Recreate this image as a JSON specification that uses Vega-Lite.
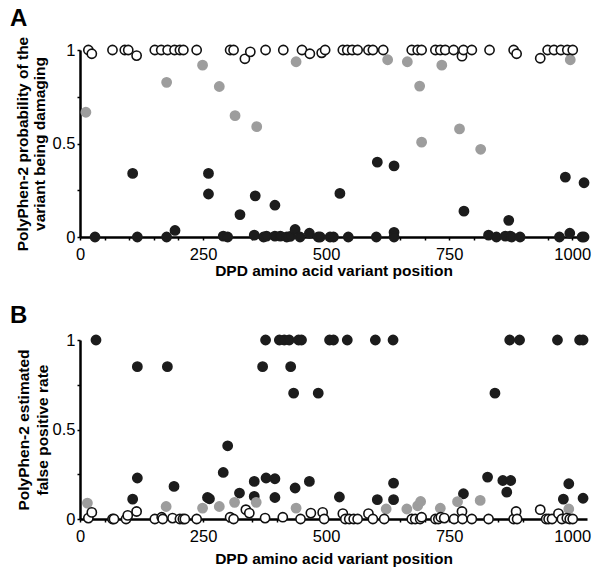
{
  "$schema": "https://vega.github.io/schema/vega-lite/v6.json",
  "autosize": "none",
  "padding": {"left": 80, "top": 50, "right": 521, "bottom": 524},
  "bounds": "flush",
  "spacing": 103,
  "config": {
    "font": "Liberation Sans",
    "view": {"stroke": null},
    "axis": {
      "grid": false,
      "domainColor": "#000",
      "domainWidth": 2.5,
      "tickColor": "#000",
      "tickWidth": 1.5,
      "tickSize": 3,
      "labelFont": "Liberation Sans",
      "labelFontSize": 16.5,
      "labelColor": "#000",
      "labelFlush": false,
      "labelOverlap": false,
      "titleFont": "Liberation Sans",
      "titleFontSize": 15.5,
      "titleLineHeight": 18,
      "titleFontWeight": "bold",
      "titleColor": "#000"
    }
  },
  "datasets": {
    "a": [
      {"pos": 30.5, "val": 0, "cls": "benign"}, {"pos": 107, "val": 0.34, "cls": "benign"}, {"pos": 116.5, "val": 0, "cls": "benign"},
      {"pos": 176, "val": 0, "cls": "benign"}, {"pos": 193, "val": 0.035, "cls": "benign"}, {"pos": 261, "val": 0.34, "cls": "benign"},
      {"pos": 261, "val": 0.23, "cls": "benign"}, {"pos": 291, "val": 0.005, "cls": "benign"}, {"pos": 300, "val": 0, "cls": "benign"},
      {"pos": 325, "val": 0.12, "cls": "benign"}, {"pos": 354, "val": 0.01, "cls": "benign"}, {"pos": 356, "val": 0.22, "cls": "benign"},
      {"pos": 373, "val": 0, "cls": "benign"}, {"pos": 379, "val": 0.005, "cls": "benign"}, {"pos": 396, "val": 0.005, "cls": "benign"},
      {"pos": 396, "val": 0.17, "cls": "benign"}, {"pos": 407, "val": 0.005, "cls": "benign"}, {"pos": 420, "val": 0, "cls": "benign"},
      {"pos": 427, "val": 0.003, "cls": "benign"}, {"pos": 437, "val": 0.04, "cls": "benign"}, {"pos": 447, "val": 0, "cls": "benign"},
      {"pos": 466, "val": 0.02, "cls": "benign"}, {"pos": 484, "val": 0, "cls": "benign"}, {"pos": 488, "val": 0, "cls": "benign"},
      {"pos": 508, "val": 0, "cls": "benign"}, {"pos": 515, "val": 0, "cls": "benign"}, {"pos": 528, "val": 0.233, "cls": "benign"},
      {"pos": 545, "val": 0, "cls": "benign"}, {"pos": 602, "val": 0, "cls": "benign"}, {"pos": 604, "val": 0.4, "cls": "benign"},
      {"pos": 638, "val": 0.38, "cls": "benign"}, {"pos": 638, "val": 0.025, "cls": "benign"}, {"pos": 638, "val": 0, "cls": "benign"},
      {"pos": 780, "val": 0.138, "cls": "benign"}, {"pos": 830, "val": 0.01, "cls": "benign"}, {"pos": 846, "val": 0, "cls": "benign"},
      {"pos": 864, "val": 0.005, "cls": "benign"}, {"pos": 871, "val": 0.089, "cls": "benign"}, {"pos": 874, "val": 0.005, "cls": "benign"},
      {"pos": 877, "val": 0, "cls": "benign"}, {"pos": 894, "val": 0, "cls": "benign"}, {"pos": 974, "val": 0, "cls": "benign"},
      {"pos": 986, "val": 0.32, "cls": "benign"}, {"pos": 995, "val": 0.02, "cls": "benign"}, {"pos": 1020, "val": 0, "cls": "benign"},
      {"pos": 1024, "val": 0.29, "cls": "benign"}, {"pos": 1024, "val": 0, "cls": "benign"},
      {"pos": 12, "val": 0.667, "cls": "possibly"}, {"pos": 176, "val": 0.827, "cls": "possibly"}, {"pos": 249, "val": 0.919, "cls": "possibly"},
      {"pos": 283, "val": 0.805, "cls": "possibly"}, {"pos": 315, "val": 0.649, "cls": "possibly"}, {"pos": 359, "val": 0.59, "cls": "possibly"},
      {"pos": 439, "val": 0.937, "cls": "possibly"}, {"pos": 625, "val": 0.948, "cls": "possibly"}, {"pos": 665, "val": 0.937, "cls": "possibly"},
      {"pos": 690, "val": 0.807, "cls": "possibly"}, {"pos": 694, "val": 0.507, "cls": "possibly"}, {"pos": 735, "val": 0.919, "cls": "possibly"},
      {"pos": 771, "val": 0.578, "cls": "possibly"}, {"pos": 814, "val": 0.469, "cls": "possibly"}, {"pos": 996, "val": 0.948, "cls": "possibly"},
      {"pos": 17, "val": 1, "cls": "probably"}, {"pos": 24, "val": 0.98, "cls": "probably"}, {"pos": 66, "val": 1, "cls": "probably"},
      {"pos": 91, "val": 1, "cls": "probably"}, {"pos": 98, "val": 1, "cls": "probably"}, {"pos": 115, "val": 0.97, "cls": "probably"},
      {"pos": 152, "val": 1, "cls": "probably"}, {"pos": 165, "val": 1, "cls": "probably"}, {"pos": 178, "val": 1, "cls": "probably"},
      {"pos": 192, "val": 1, "cls": "probably"}, {"pos": 203, "val": 1, "cls": "probably"}, {"pos": 210, "val": 1, "cls": "probably"},
      {"pos": 237, "val": 1, "cls": "probably"}, {"pos": 305, "val": 1, "cls": "probably"}, {"pos": 312, "val": 1, "cls": "probably"},
      {"pos": 335, "val": 0.953, "cls": "probably"}, {"pos": 346, "val": 0.99, "cls": "probably"}, {"pos": 377, "val": 1, "cls": "probably"},
      {"pos": 413, "val": 1, "cls": "probably"}, {"pos": 451, "val": 1, "cls": "probably"}, {"pos": 467, "val": 0.98, "cls": "probably"},
      {"pos": 491, "val": 0.985, "cls": "probably"}, {"pos": 498, "val": 1, "cls": "probably"}, {"pos": 534, "val": 1, "cls": "probably"},
      {"pos": 543, "val": 1, "cls": "probably"}, {"pos": 553, "val": 1, "cls": "probably"}, {"pos": 564, "val": 1, "cls": "probably"},
      {"pos": 586, "val": 1, "cls": "probably"}, {"pos": 595, "val": 1, "cls": "probably"}, {"pos": 616, "val": 1, "cls": "probably"},
      {"pos": 674, "val": 1, "cls": "probably"}, {"pos": 686, "val": 1, "cls": "probably"}, {"pos": 694, "val": 1, "cls": "probably"},
      {"pos": 722, "val": 1, "cls": "probably"}, {"pos": 732, "val": 1, "cls": "probably"}, {"pos": 742, "val": 1, "cls": "probably"},
      {"pos": 759, "val": 1, "cls": "probably"}, {"pos": 776, "val": 0.967, "cls": "probably"}, {"pos": 779, "val": 1, "cls": "probably"},
      {"pos": 796, "val": 1, "cls": "probably"}, {"pos": 832, "val": 1, "cls": "probably"}, {"pos": 881, "val": 1, "cls": "probably"},
      {"pos": 887, "val": 0.98, "cls": "probably"}, {"pos": 935, "val": 0.956, "cls": "probably"}, {"pos": 950, "val": 1, "cls": "probably"},
      {"pos": 963, "val": 1, "cls": "probably"}, {"pos": 977, "val": 1, "cls": "probably"}, {"pos": 990, "val": 1, "cls": "probably"},
      {"pos": 1001, "val": 1, "cls": "probably"}
    ],
    "b": [
      {"pos": 32.5, "val": 1, "cls": "benign"}, {"pos": 107, "val": 0.111, "cls": "benign"}, {"pos": 116.5, "val": 0.851, "cls": "benign"},
      {"pos": 116.5, "val": 0.229, "cls": "benign"}, {"pos": 177.5, "val": 0.851, "cls": "benign"}, {"pos": 191, "val": 0.182, "cls": "benign"},
      {"pos": 259, "val": 0.12, "cls": "benign"}, {"pos": 263, "val": 0.113, "cls": "benign"}, {"pos": 291, "val": 0.26, "cls": "benign"},
      {"pos": 300, "val": 0.409, "cls": "benign"}, {"pos": 324, "val": 0.145, "cls": "benign"}, {"pos": 354, "val": 0.21, "cls": "benign"},
      {"pos": 354, "val": 0.126, "cls": "benign"}, {"pos": 371, "val": 0.851, "cls": "benign"}, {"pos": 377, "val": 1, "cls": "benign"},
      {"pos": 378, "val": 0.229, "cls": "benign"}, {"pos": 396, "val": 0.225, "cls": "benign"}, {"pos": 396, "val": 0.12, "cls": "benign"},
      {"pos": 405, "val": 1, "cls": "benign"}, {"pos": 415, "val": 1, "cls": "benign"}, {"pos": 425, "val": 1, "cls": "benign"},
      {"pos": 428, "val": 0.851, "cls": "benign"}, {"pos": 434, "val": 0.703, "cls": "benign"}, {"pos": 437, "val": 0.173, "cls": "benign"},
      {"pos": 444, "val": 1, "cls": "benign"}, {"pos": 450, "val": 1, "cls": "benign"}, {"pos": 466, "val": 0.21, "cls": "benign"},
      {"pos": 484, "val": 0.703, "cls": "benign"}, {"pos": 507, "val": 1, "cls": "benign"}, {"pos": 515, "val": 1, "cls": "benign"},
      {"pos": 527, "val": 0.123, "cls": "benign"}, {"pos": 543, "val": 1, "cls": "benign"}, {"pos": 600, "val": 1, "cls": "benign"},
      {"pos": 604, "val": 0.108, "cls": "benign"}, {"pos": 636, "val": 1, "cls": "benign"}, {"pos": 637, "val": 0.2, "cls": "benign"},
      {"pos": 637, "val": 0.108, "cls": "benign"}, {"pos": 779, "val": 0.141, "cls": "benign"}, {"pos": 828, "val": 0.234, "cls": "benign"},
      {"pos": 843, "val": 0.703, "cls": "benign"}, {"pos": 859, "val": 0.215, "cls": "benign"}, {"pos": 867, "val": 0.15, "cls": "benign"},
      {"pos": 873, "val": 1, "cls": "benign"}, {"pos": 875, "val": 0.215, "cls": "benign"}, {"pos": 893, "val": 1, "cls": "benign"},
      {"pos": 970, "val": 1, "cls": "benign"}, {"pos": 982, "val": 0.111, "cls": "benign"}, {"pos": 993, "val": 0.197, "cls": "benign"},
      {"pos": 1015, "val": 1, "cls": "benign"}, {"pos": 1022, "val": 1, "cls": "benign"}, {"pos": 1022, "val": 0.116, "cls": "benign"},
      {"pos": 15, "val": 0.089, "cls": "possibly"}, {"pos": 175, "val": 0.07, "cls": "possibly"}, {"pos": 249, "val": 0.061, "cls": "possibly"},
      {"pos": 283, "val": 0.07, "cls": "possibly"}, {"pos": 314, "val": 0.093, "cls": "possibly"}, {"pos": 358, "val": 0.093, "cls": "possibly"},
      {"pos": 439, "val": 0.061, "cls": "possibly"}, {"pos": 622, "val": 0.056, "cls": "possibly"}, {"pos": 664, "val": 0.056, "cls": "possibly"},
      {"pos": 686, "val": 0.074, "cls": "possibly"}, {"pos": 692, "val": 0.098, "cls": "possibly"}, {"pos": 732, "val": 0.06, "cls": "possibly"},
      {"pos": 767, "val": 0.097, "cls": "possibly"}, {"pos": 813, "val": 0.104, "cls": "possibly"}, {"pos": 993, "val": 0.056, "cls": "possibly"},
      {"pos": 17, "val": 0.005, "cls": "probably"}, {"pos": 24, "val": 0.037, "cls": "probably"}, {"pos": 66, "val": 0, "cls": "probably"},
      {"pos": 69, "val": 0, "cls": "probably"}, {"pos": 93.5, "val": 0, "cls": "probably"}, {"pos": 97, "val": 0.02, "cls": "probably"},
      {"pos": 115, "val": 0.042, "cls": "probably"}, {"pos": 152, "val": 0, "cls": "probably"}, {"pos": 166, "val": 0.01, "cls": "probably"},
      {"pos": 168, "val": 0, "cls": "probably"}, {"pos": 188, "val": 0.005, "cls": "probably"}, {"pos": 203, "val": 0, "cls": "probably"},
      {"pos": 209, "val": 0, "cls": "probably"}, {"pos": 213, "val": 0, "cls": "probably"}, {"pos": 237, "val": 0, "cls": "probably"},
      {"pos": 305, "val": 0.01, "cls": "probably"}, {"pos": 312, "val": 0, "cls": "probably"}, {"pos": 337, "val": 0.052, "cls": "probably"},
      {"pos": 344, "val": 0.033, "cls": "probably"}, {"pos": 376, "val": 0.005, "cls": "probably"}, {"pos": 412, "val": 0.01, "cls": "probably"},
      {"pos": 448, "val": 0, "cls": "probably"}, {"pos": 469, "val": 0.033, "cls": "probably"}, {"pos": 493, "val": 0.037, "cls": "probably"},
      {"pos": 496, "val": 0, "cls": "probably"}, {"pos": 534, "val": 0.03, "cls": "probably"}, {"pos": 539, "val": 0, "cls": "probably"},
      {"pos": 547, "val": 0, "cls": "probably"}, {"pos": 556, "val": 0, "cls": "probably"}, {"pos": 564, "val": 0, "cls": "probably"},
      {"pos": 586, "val": 0.03, "cls": "probably"}, {"pos": 595, "val": 0, "cls": "probably"}, {"pos": 618, "val": 0, "cls": "probably"},
      {"pos": 674, "val": 0, "cls": "probably"}, {"pos": 681, "val": 0, "cls": "probably"}, {"pos": 691, "val": 0, "cls": "probably"},
      {"pos": 694, "val": 0.01, "cls": "probably"}, {"pos": 722, "val": 0, "cls": "probably"}, {"pos": 728, "val": 0, "cls": "probably"},
      {"pos": 733, "val": 0.01, "cls": "probably"}, {"pos": 740, "val": 0.005, "cls": "probably"}, {"pos": 760, "val": 0, "cls": "probably"},
      {"pos": 776, "val": 0.042, "cls": "probably"}, {"pos": 777, "val": 0, "cls": "probably"}, {"pos": 796, "val": 0, "cls": "probably"},
      {"pos": 830, "val": 0, "cls": "probably"}, {"pos": 881, "val": 0, "cls": "probably"}, {"pos": 886, "val": 0.042, "cls": "probably"},
      {"pos": 888, "val": 0, "cls": "probably"}, {"pos": 935, "val": 0.052, "cls": "probably"}, {"pos": 947, "val": 0, "cls": "probably"},
      {"pos": 952, "val": 0, "cls": "probably"}, {"pos": 959, "val": 0, "cls": "probably"}, {"pos": 972, "val": 0.03, "cls": "probably"},
      {"pos": 979, "val": 0, "cls": "probably"}, {"pos": 989, "val": 0.005, "cls": "probably"}, {"pos": 995, "val": 0, "cls": "probably"},
      {"pos": 1001, "val": 0, "cls": "probably"}
    ]
  },
  "vconcat": [
    {
      "width": 507,
      "height": 187,
      "data": {"name": "a"},
      "title": {"text": "A", "anchor": "start", "frame": "group", "dx": -70, "offset": 5, "fontSize": 24, "fontWeight": "bold", "font": "Liberation Sans", "color": "#000"},
      "mark": {"type": "point", "shape": "circle", "filled": true, "size": 85, "strokeWidth": 1.6, "opacity": 1},
      "encoding": {
        "x": {"field": "pos", "type": "quantitative", "scale": {"domain": [0, 1030], "nice": false},
          "axis": {"title": "DPD amino acid variant position", "values": [0,50,100,150,200,250,300,350,400,450,500,550,600,650,700,750,800,850,900,950,1000],
            "labelExpr": "datum.value % 250 === 0 ? datum.label : ''", "format": "d", "labelPadding": 6, "titlePadding": 1}},
        "y": {"field": "val", "type": "quantitative", "scale": {"domain": [0, 1], "nice": false},
          "axis": {"title": ["PolyPhen-2 probability of the", "variant being damaging"], "values": [0, 0.25, 0.5, 0.75, 1],
            "labelExpr": "datum.value == 0 ? '0' : datum.value == 0.5 ? '0.5' : datum.value == 1 ? '1' : ''", "labelPadding": 2, "titlePadding": 5, "titleLineHeight": 17}},
        "fill": {"field": "cls", "type": "nominal", "legend": null, "scale": {"domain": ["benign", "possibly", "probably"], "range": ["#1c1c1c", "#9d9d9d", "#ffffff"]}},
        "stroke": {"field": "cls", "type": "nominal", "legend": null, "scale": {"domain": ["benign", "possibly", "probably"], "range": ["#1c1c1c", "#9d9d9d", "#111111"]}}
      }
    },
    {
      "width": 507,
      "height": 179,
      "data": {"name": "b"},
      "title": {"text": "B", "anchor": "start", "frame": "group", "dx": -70, "offset": 4, "fontSize": 24, "fontWeight": "bold", "font": "Liberation Sans", "color": "#000"},
      "mark": {"type": "point", "shape": "circle", "filled": true, "size": 85, "strokeWidth": 1.6, "opacity": 1},
      "encoding": {
        "x": {"field": "pos", "type": "quantitative", "scale": {"domain": [0, 1030], "nice": false},
          "axis": {"title": "DPD amino acid variant position", "values": [0,50,100,150,200,250,300,350,400,450,500,550,600,650,700,750,800,850,900,950,1000],
            "labelExpr": "datum.value % 250 === 0 ? datum.label : ''", "format": "d", "labelPadding": 6, "titlePadding": 7}},
        "y": {"field": "val", "type": "quantitative", "scale": {"domain": [0, 1], "nice": false},
          "axis": {"title": ["PolyPhen-2 estimated", "false positive rate"], "values": [0, 0.25, 0.5, 0.75, 1],
            "labelExpr": "datum.value == 0 ? '0' : datum.value == 0.5 ? '0.5' : datum.value == 1 ? '1' : ''", "labelPadding": 2, "titlePadding": 2, "titleLineHeight": 19}},
        "fill": {"field": "cls", "type": "nominal", "legend": null, "scale": {"domain": ["benign", "possibly", "probably"], "range": ["#1c1c1c", "#9d9d9d", "#ffffff"]}},
        "stroke": {"field": "cls", "type": "nominal", "legend": null, "scale": {"domain": ["benign", "possibly", "probably"], "range": ["#1c1c1c", "#9d9d9d", "#111111"]}}
      }
    }
  ]
}
